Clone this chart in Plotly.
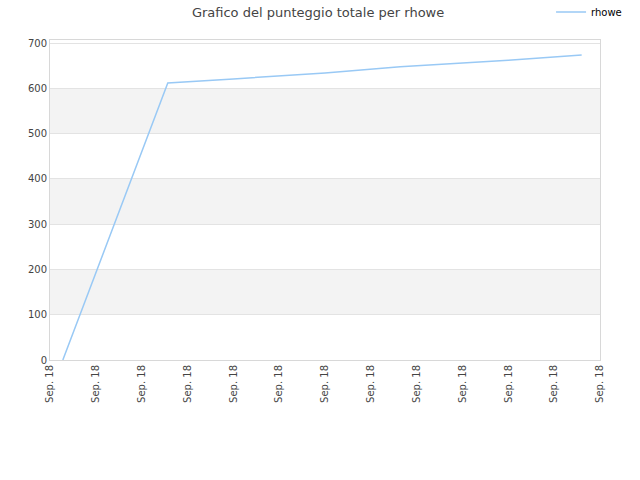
import plotly.graph_objects as go

# Data (x in tick-slot units of the time axis, y = total score)
x_vals = [0.28, 2.57, 4.0, 6.0, 7.64, 10.0, 11.6]
y_vals = [0, 612, 621, 634, 648, 662, 674]
tick_pos = list(range(13))
tick_labels = ["Sep. 18"] * 13
bands = [(100, 200), (300, 400), (500, 600)]

fig = go.Figure()
fig.add_trace(go.Scatter(
    x=x_vals, y=y_vals, mode="lines", name="rhowe",
    line=dict(color="#99c9f5", width=1.5),
))

shapes = [dict(type="rect", xref="paper", yref="y", x0=0, x1=1, y0=a, y1=b,
               fillcolor="#f3f3f3", line=dict(width=0), layer="below")
          for a, b in bands]

fig.update_layout(
    width=640, height=480,
    margin=dict(l=50, r=40, t=40, b=120, autoexpand=False),
    paper_bgcolor="white", plot_bgcolor="white",
    title=dict(text="Grafico del punteggio totale per rhowe", x=0.497, y=0.975,
               xanchor="center", yanchor="middle",
               font=dict(family="DejaVu Sans", size=13, color="#444444")),
    font=dict(family="DejaVu Sans", size=10, color="#444444"),
    showlegend=True,
    legend=dict(x=0.911, y=1.0875, xanchor="left", yanchor="middle",
                font=dict(size=10, color="#000000"), bgcolor="rgba(0,0,0,0)",
                itemwidth=30),
    shapes=shapes,
    xaxis=dict(range=[0, 12], tickvals=tick_pos, ticktext=tick_labels,
               tickangle=-90, showgrid=False, zeroline=False, automargin=False,
               showline=True, linecolor="#d8d8d8", mirror=True,
               ticks="", tickfont=dict(size=10, color="#444444")),
    yaxis=dict(range=[0, 707], tickvals=[0, 100, 200, 300, 400, 500, 600, 700],
               showgrid=True, gridcolor="#e3e3e3", zeroline=False, automargin=False,
               showline=True, linecolor="#d8d8d8", mirror=True,
               ticks="", tickfont=dict(size=10, color="#444444")),
)

fig.write_html("out.html", config={"displayModeBar": False},
               post_script="document.body.style.margin='0';")
